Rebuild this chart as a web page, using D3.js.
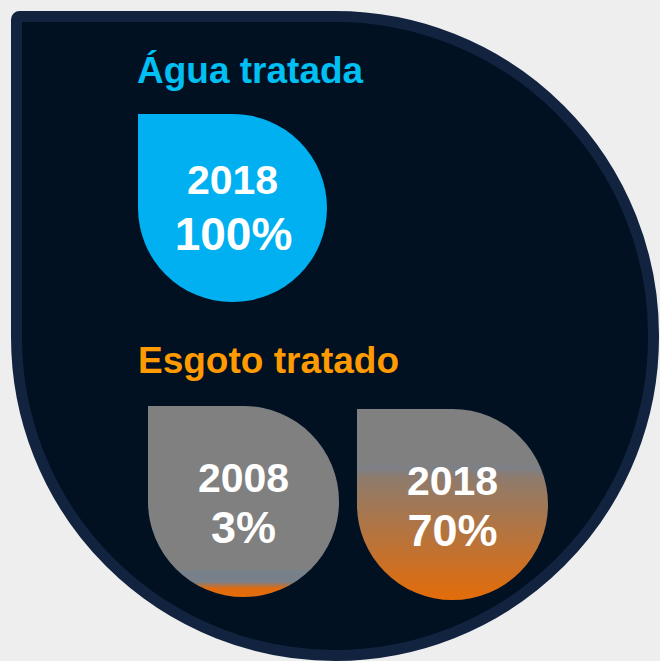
<!DOCTYPE html>
<html>
<head>
<meta charset="utf-8">
<script src="https://cdn.jsdelivr.net/npm/d3@7"></script>
<style>
  html, body { margin: 0; padding: 0; background: #eeeeee; }
  svg { display: block; }
</style>
</head>
<body>
<div id="chart"></div>
<script>
// data
var aguaYears = ["2018"];
var aguaValues = [100];
var esgotoYears = ["2008", "2018"];
var esgotoValues = [3, 70];
var titles = ["Água tratada", "Esgoto tratado"];

// gradient stops for the sewage drops (style only)
var esgotoGradients = [
  [[0, "#808080"], [0.85, "#808080"], [0.87, "#77818b"], [0.92, "#78808a"], [0.955, "#e06c10"], [1, "#e46c0a"]],
  [[0, "#808080"], [0.28, "#808080"], [0.31, "#7e8087"], [0.36, "#8e7b6c"], [1, "#e36c09"]]
];

var width = 660;
var height = 661;

var svg = d3.select("#chart").append("svg")
  .attr("width", width)
  .attr("height", height);

// drop shape: square top-left corner, the other three rounded
function drop(x, y, w, h, r0) {
  var r = Math.min(w, h) / 2;
  return "M" + x + "," + (y + r0) +
    " A" + r0 + "," + r0 + " 0 0 1 " + (x + r0) + "," + y +
    " H" + (x + w - r) +
    " A" + r + "," + r + " 0 0 1 " + (x + w) + "," + (y + r) +
    " V" + (y + h - r) +
    " A" + r + "," + r + " 0 0 1 " + (x + w - r) + "," + (y + h) +
    " H" + (x + r) +
    " A" + r + "," + r + " 0 0 1 " + x + "," + (y + h - r) + " Z";
}

// big background drop
svg.append("path")
  .attr("d", drop(16.5, 16.5, 637, 639, 3))
  .attr("fill", "#011122")
  .attr("stroke", "#12233f")
  .attr("stroke-width", 11);

var defs = svg.append("defs");
esgotoGradients.forEach(function (stops, i) {
  var g = defs.append("linearGradient")
    .attr("id", "grad" + i)
    .attr("x1", 0).attr("y1", 0)
    .attr("x2", 0).attr("y2", 1);
  stops.forEach(function (s) {
    g.append("stop").attr("offset", s[0]).attr("stop-color", s[1]);
  });
});

// titles
svg.append("text")
  .attr("x", 137)
  .attr("y", 83)
  .attr("font-family", "Liberation Sans, Arial, sans-serif")
  .attr("font-weight", "bold")
  .attr("font-size", 37)
  .attr("fill", "#00bff2")
  .text(titles[0]);

svg.append("text")
  .attr("x", 138)
  .attr("y", 373)
  .attr("font-family", "Liberation Sans, Arial, sans-serif")
  .attr("font-weight", "bold")
  .attr("font-size", 37)
  .attr("fill", "#ff9a00")
  .text(titles[1]);

// water drop
var aguaX = d3.scaleBand().domain(aguaYears).range([138, 327]).padding(0);
var aguaSize = aguaX.bandwidth();

var agua = svg.selectAll("g.agua")
  .data(aguaYears)
  .join("g")
  .attr("class", "agua");

agua.append("path")
  .attr("d", function (d) { return drop(aguaX(d), 114, aguaSize, aguaSize - 1, 0); })
  .attr("fill", "#00b0f0");

agua.append("text")
  .attr("x", function (d) { return aguaX(d) + aguaSize / 2; })
  .attr("y", 194)
  .attr("text-anchor", "middle")
  .attr("font-family", "Liberation Sans, Arial, sans-serif")
  .attr("font-weight", "bold")
  .attr("font-size", 41)
  .attr("fill", "#ffffff")
  .text(function (d) { return d; });

agua.append("text")
  .attr("x", function (d) { return aguaX(d) + aguaSize / 2 + 1; })
  .attr("y", 250)
  .attr("text-anchor", "middle")
  .attr("font-family", "Liberation Sans, Arial, sans-serif")
  .attr("font-weight", "bold")
  .attr("font-size", 46)
  .attr("fill", "#ffffff")
  .text(function (d, i) { return aguaValues[i] + "%"; });

// sewage drops
var esgotoX = d3.scaleBand().domain(esgotoYears).range([148, 548]).paddingInner(0.086);
var esgotoSize = esgotoX.bandwidth();
var esgotoTop = d3.scaleOrdinal(esgotoYears, [406, 409]);

var esgoto = svg.selectAll("g.esgoto")
  .data(esgotoYears)
  .join("g")
  .attr("class", "esgoto");

esgoto.append("path")
  .attr("d", function (d) { return drop(esgotoX(d), esgotoTop(d), esgotoSize, esgotoSize, 0); })
  .attr("fill", function (d, i) { return "url(#grad" + i + ")"; });

esgoto.append("text")
  .attr("x", function (d) { return esgotoX(d) + esgotoSize / 2; })
  .attr("y", function (d) { return esgotoTop(d) + 86; })
  .attr("text-anchor", "middle")
  .attr("font-family", "Liberation Sans, Arial, sans-serif")
  .attr("font-weight", "bold")
  .attr("font-size", 41)
  .attr("fill", "#ffffff")
  .text(function (d) { return d; });

esgoto.append("text")
  .attr("x", function (d) { return esgotoX(d) + esgotoSize / 2; })
  .attr("y", function (d) { return esgotoTop(d) + 137; })
  .attr("text-anchor", "middle")
  .attr("font-family", "Liberation Sans, Arial, sans-serif")
  .attr("font-weight", "bold")
  .attr("font-size", 45)
  .attr("fill", "#ffffff")
  .text(function (d, i) { return esgotoValues[i] + "%"; });
</script>
</body>
</html>
